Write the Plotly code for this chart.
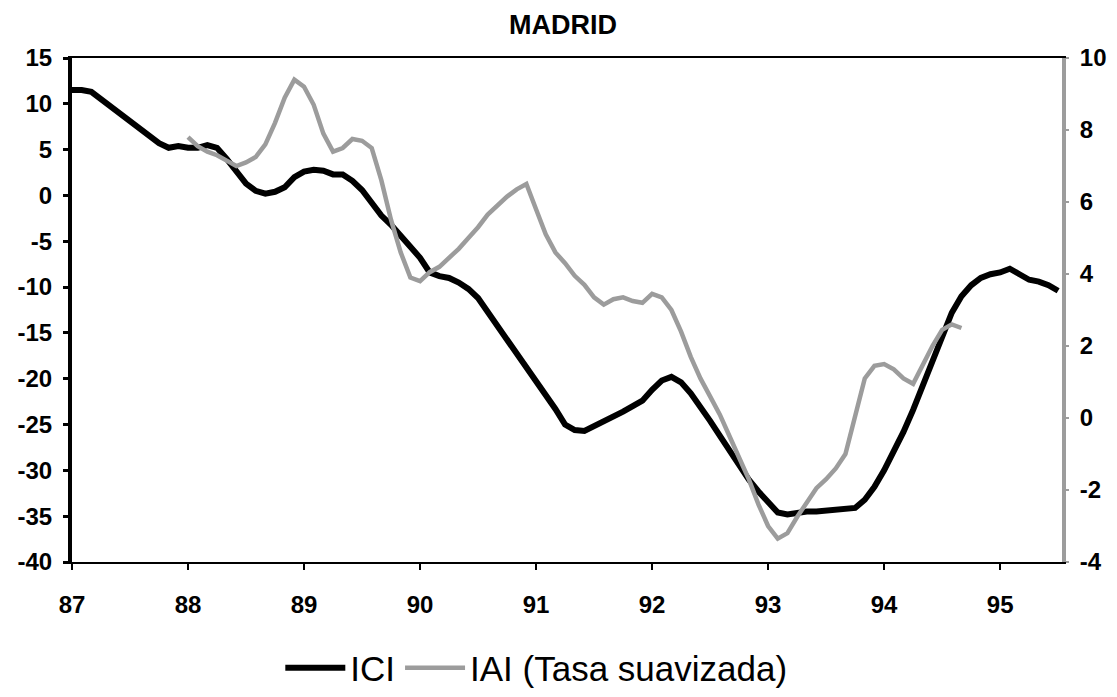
import plotly.graph_objects as go

# Monthly observations, Jan-87 = month 0
year_labels = ["87", "88", "89", "90", "91", "92", "93", "94", "95"]
left_ticks = [15, 10, 5, 0, -5, -10, -15, -20, -25, -30, -35, -40]
right_ticks = [10, 8, 6, 4, 2, 0, -2, -4]

ici = [
    # 87
    11.5, 11.5, 11.3, 10.5, 9.8, 9.0, 8.3, 7.5, 6.6, 5.7, 5.2, 5.4,
    # 88
    5.2, 5.2, 5.5, 5.2, 4.0, 2.6, 1.3, 0.5, 0.2, 0.4, 0.9, 2.0,
    # 89
    2.6, 2.8, 2.7, 2.3, 2.3, 1.6, 0.6, -0.8, -2.2, -3.2, -4.5, -5.6,
    # 90
    -6.8, -8.4, -8.8, -9.0, -9.5, -10.2, -11.2, -12.7, -14.3, -15.9, -17.4, -18.9,
    # 91
    -20.4, -21.7, -23.3, -25.0, -25.6, -25.7, -25.2, -24.7, -24.2, -23.6, -23.0, -22.4,
    # 92
    -21.2, -20.2, -19.8, -20.4, -21.6, -23.0, -24.6, -26.2, -27.8, -29.4, -31.0, -32.3,
    # 93
    -33.5, -34.6, -34.8, -34.6, -34.5, -34.5, -34.4, -34.4, -34.3, -34.1, -33.2, -31.8,
    # 94
    -30.0, -28.0, -25.8, -23.4, -20.8, -18.2, -15.2, -12.8, -11.0, -9.8, -9.0, -8.6,
    # 95
    -8.4, -8.0, -8.6, -9.2, -9.4, -9.8, -10.4,
]

iai_start_month = 12
iai = [
    # 88
    7.8, 7.55, 7.4, 7.3, 7.15, 7.0, 7.1, 7.25, 7.6, 8.2, 8.9, 9.4,
    # 89
    9.2, 8.7, 7.9, 7.4, 7.5, 7.75, 7.7, 7.5, 6.6, 5.5, 4.6, 3.9,
    # 90
    3.8, 4.05, 4.2, 4.45, 4.7, 5.0, 5.3, 5.65, 5.9, 6.15, 6.35, 6.5,
    # 91
    5.8, 5.1, 4.6, 4.3, 3.95, 3.7, 3.35, 3.15, 3.3, 3.35, 3.25, 3.2,
    # 92
    3.45, 3.35, 3.0, 2.4, 1.7, 1.1, 0.6, 0.1, -0.5, -1.1, -1.7, -2.4,
    # 93
    -3.0, -3.35, -3.2, -2.75, -2.35, -1.95, -1.7, -1.4, -1.0, 0.1, 1.1, 1.45,
    # 94
    1.5, 1.35, 1.1, 0.95, 1.5, 2.0, 2.45, 2.6, 2.5,
]

ici_x = list(range(len(ici)))
iai_x = [iai_start_month + i for i in range(len(iai))]
tick_pos = [12 * i for i in range(len(year_labels))]

FONT = "Liberation Sans, Arial, sans-serif"
GRAY = "#9c9c9c"

fig = go.Figure()
fig.add_trace(go.Scatter(
    x=ici_x, y=ici, name="ICI", mode="lines",
    line=dict(color="black", width=6), yaxis="y",
))
fig.add_trace(go.Scatter(
    x=iai_x, y=iai, name="IAI (Tasa suavizada)", mode="lines",
    line=dict(color=GRAY, width=4.5), yaxis="y2",
))

tickfont = dict(family=FONT, size=24, color="black", weight="bold")

fig.update_layout(
    width=1101, height=681,
    margin=dict(l=64, r=47, t=50, b=127),
    paper_bgcolor="white", plot_bgcolor="white",
    title=dict(text="<b>MADRID</b>", x=0.504, xanchor="center", y=0.975, yanchor="middle",
               font=dict(family=FONT, size=27, color="black")),
    showlegend=True,
    legend=dict(orientation="h", xref="paper", x=0.469, xanchor="center",
                yref="container", y=0.031, yanchor="middle",
                font=dict(family=FONT, size=35, color="black"),
                itemwidth=60, tracegroupgap=0, bgcolor="rgba(0,0,0,0)"),
    xaxis=dict(
        range=[0, 102.4], tickmode="array", tickvals=tick_pos, ticktext=year_labels,
        showgrid=False, zeroline=False, showline=True, linecolor="black", linewidth=1.5,
        mirror=True, ticks="outside", ticklen=6, tickwidth=2, tickcolor="black",
        ticklabelstandoff=14, automargin=False,
        tickfont=tickfont,
    ),
    yaxis=dict(
        range=[-40, 15], tickmode="array", tickvals=left_ticks,
        ticktext=[str(v) for v in left_ticks],
        showgrid=False, zeroline=False,
        showline=True, linecolor="black", linewidth=4,
        ticks="outside", ticklen=5, tickwidth=3, tickcolor="black",
        ticklabelstandoff=6, automargin=False,
        tickfont=tickfont,
    ),
    yaxis2=dict(
        range=[-4, 10], tickmode="array", tickvals=right_ticks,
        ticktext=[str(v) for v in right_ticks],
        overlaying="y", side="right",
        showgrid=False, zeroline=False, showline=True, linecolor=GRAY, linewidth=4,
        ticks="outside", ticklen=3, tickwidth=2, tickcolor=GRAY,
        ticklabelstandoff=6, automargin=False,
        tickfont=tickfont,
    ),
)

fig.write_html("out.html")
